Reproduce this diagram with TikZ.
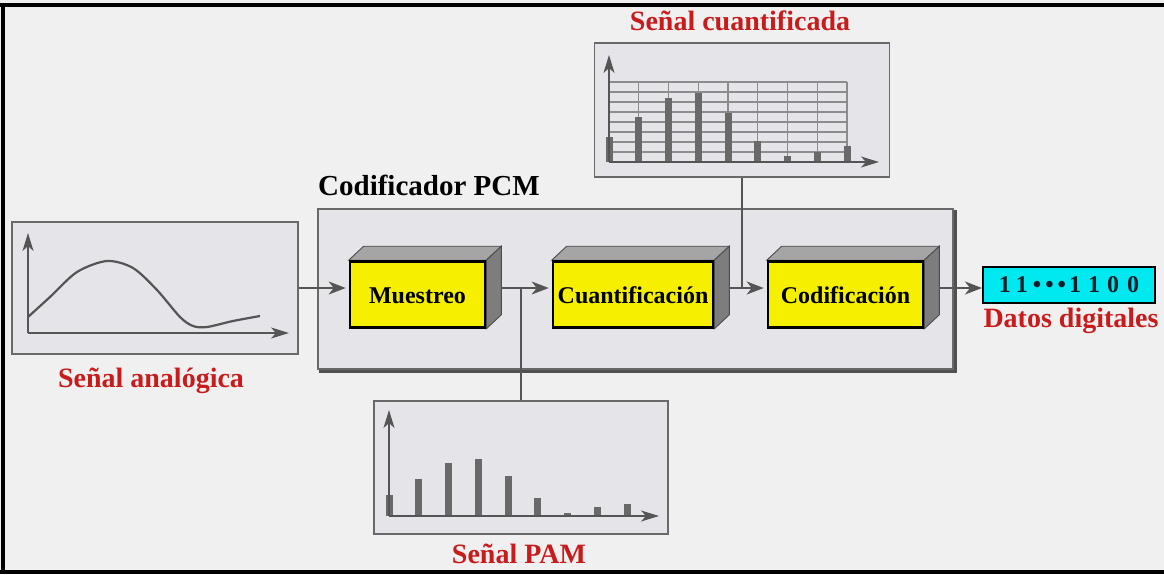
\documentclass[tikz,border=0pt]{standalone}
\usepackage{fontspec}
\setmainfont{Liberation Serif}
\usetikzlibrary{arrows.meta,calc}
\definecolor{bggray}{RGB}{240,240,240}
\definecolor{panel}{RGB}{228,228,233}
\definecolor{edge}{RGB}{105,105,105}
\definecolor{wire}{RGB}{85,85,85}
\definecolor{labred}{RGB}{200,28,28}
\definecolor{blockyellow}{RGB}{246,240,0}
\definecolor{digcyan}{RGB}{0,232,240}
\definecolor{digtext}{RGB}{15,30,40}
\definecolor{topface}{RGB}{165,165,165}
\definecolor{sideface}{RGB}{125,125,125}
\definecolor{barc}{RGB}{105,105,105}
\definecolor{gridc}{RGB}{140,140,140}
\definecolor{shadowc}{RGB}{80,80,80}
\pgfdeclarelayer{bg}
\pgfdeclarelayer{mid}
\pgfsetlayers{bg,mid,main}
\begin{document}
\begin{tikzpicture}[x=1pt,y=-1pt,
  panelbox/.style={draw=edge,fill=panel,line width=1.8pt,inner sep=0pt},
  block/.style={draw=black,fill=blockyellow,line width=2.6pt,inner sep=0pt,
    minimum height=66pt,text height=17pt,text depth=0pt,
    font=\fontsize{24}{26}\selectfont\bfseries},
  redlabel/.style={text=labred,font=\fontsize{28}{30}\selectfont\bfseries,anchor=base,inner sep=0pt},
  wireline/.style={draw=wire,line width=1.8pt},
  flow/.style={wireline,-{Stealth[length=17pt,width=13pt,inset=5pt]}},
  axis/.style={draw=wire,line width=1.8pt,-{Stealth[length=18pt,width=11pt,inset=5pt]}},
  gridline/.style={draw=gridc,line width=1.1pt},
  barfill/.style={fill=barc},
  face/.style={draw=black!70,line width=0.9pt}
]
\useasboundingbox (0,0) rectangle (1164,574);

% background, frame and PCM box
\begin{pgfonlayer}{bg}
  \fill[bggray] (0,0) rectangle (1164,574);
  \draw[line width=4pt] (0,5) -- (1164,5);
  \draw[line width=4pt] (3,3) -- (3,574);
  \draw[line width=4pt] (0,572) -- (1164,572);
  \node[draw=edge,fill=panel,line width=1.6pt,minimum width=635pt,minimum height=160pt,inner sep=0pt] (pcm) at (635.5,289) {};
  \draw[shadowc,line width=3pt] ([xshift=2pt,yshift=-2pt]pcm.south west) -| ([xshift=2pt,yshift=-2pt]pcm.north east);
\end{pgfonlayer}

% panels
\node[panelbox,minimum width=286pt,minimum height=132pt] (analog) at (155,288) {};
\node[panelbox,minimum width=295pt,minimum height=134pt] (quant) at (742,110) {};
\node[panelbox,minimum width=294pt,minimum height=133pt] (pam) at (521,467.5) {};

% analog graph
\draw[wire,line width=2.2pt] plot[smooth] coordinates {(28,317) (50,297) (77,272) (107,261) (133,268) (157,290) (180,317) (193,326) (207,327) (233,321) (260,316)};
\draw[axis] (28,333) -- (28,233);
\draw[axis] (28,333) -- (289,333);

% quantized graph
\foreach \yy in {82,92,...,152} \draw[gridline] (609,\yy) -- (847,\yy);
\foreach \i in {1,...,8} \draw[gridline] ({609+29.75*\i},82) -- ({609+29.75*\i},162);
\foreach \i/\t in {0/137,1/117,2/98,3/93,4/113,5/141,6/156,7/152,8/146}
  \fill[barfill] ({609+29.75*\i-3.5},162) rectangle ({609+29.75*\i+3.5},\t);
\draw[axis] (609,162) -- (609,55);
\draw[axis] (609,162) -- (879,162);

% PAM graph
\foreach \i/\t in {0/495,1/479,2/463,3/459,4/476,5/498,6/513,7/507,8/504}
  \fill[barfill] ({389+29.75*\i-3.5},516) rectangle ({389+29.75*\i+3.5},\t);
\draw[axis] (389,516) -- (389,410);
\draw[axis] (389,516) -- (659,516);

% blocks
\node[block,minimum width=135pt] (mues) at (417.5,294.5) {Muestreo};
\node[block,minimum width=160pt] (cuan) at (633,294.5) {Cuantificación};
\node[block,minimum width=155pt] (codi) at (845.5,294.5) {Codificación};
\begin{pgfonlayer}{mid}
\foreach \n in {mues,cuan,codi} {
  \path[face,fill=topface] (\n.north west) -- ++(15,-14) -- ([shift={(15,-14)}]\n.north east) -- (\n.north east) -- cycle;
  \path[face,fill=sideface] (\n.north east) -- ++(15,-14) -- ([shift={(15,-14)}]\n.south east) -- (\n.south east) -- cycle;
}
\end{pgfonlayer}

% digital output
\node[draw=black,fill=digcyan,line width=2pt,minimum width=172pt,minimum height=36pt,inner sep=0pt,
  font=\fontsize{24}{26}\selectfont\bfseries,text=digtext] (datos) at (1069,285)
  {1\hspace{5pt}1\hspace{5pt}•\hspace{4pt}•\hspace{4pt}•\hspace{3pt}1\hspace{7pt}1\hspace{7pt}0\hspace{8pt}0};

% labels
\node[redlabel] (lanalog) at (151,387) {Señal analógica};
\node[redlabel] (lquant) at (740,30) {Señal cuantificada};
\node[redlabel] (lpam) at (519,563) {Señal PAM};
\node[redlabel] (ldatos) at (1071,327) {Datos digitales};
\node[anchor=base west,inner sep=0pt,font=\fontsize{29}{31}\selectfont\bfseries] (lpcm) at (318,195) {Codificador PCM};

% connectors
\coordinate (sigy) at (0,288);
\draw[flow] (analog.east |- sigy) -- ([xshift=-3pt]mues.west |- sigy);
\draw[flow] ($(mues.east |- sigy)+(15,0)$) -- ([xshift=-3pt]cuan.west |- sigy);
\draw[flow] ($(cuan.east |- sigy)+(15,0)$) -- ([xshift=-3pt]codi.west |- sigy);
\draw[flow] ($(codi.east |- sigy)+(15,0)$) -- (datos.west |- sigy);
\draw[wireline] (pam.north) -- (pam.north |- sigy);
\draw[wireline] (quant.south) -- (quant.south |- sigy);
\end{tikzpicture}
\end{document}
